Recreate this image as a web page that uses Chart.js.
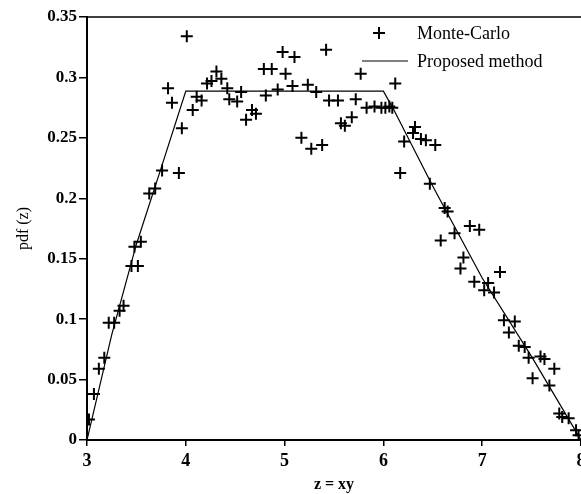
<!DOCTYPE html>
<html>
<head>
<meta charset="utf-8">
<script src="https://cdn.jsdelivr.net/npm/chart.js@4.4.1/dist/chart.umd.min.js"></script>
<style>
  body { margin: 0; background: #fff; }
  canvas { display: block; }
</style>
</head>
<body>
<canvas id="chart" width="581" height="494"></canvas>
<script>
// Monte-Carlo samples (z, pdf)
const mcZ = [
    3.02, 3.07, 3.12, 3.175, 3.22, 3.275, 3.33, 3.37, 3.45, 3.515, 3.48, 3.545,
    3.63, 3.69, 3.76, 3.93, 3.96, 3.86, 3.82,
    4.01, 4.07, 4.11, 4.16, 4.215, 4.26, 4.31, 4.36, 4.42, 4.44, 4.52, 4.56,
    4.61, 4.67, 4.71, 4.81, 4.79, 4.87, 4.93, 4.98, 5.01, 5.10, 5.08, 5.235,
    5.32, 5.42, 5.45, 5.54, 5.72, 5.77, 5.57, 5.61, 5.68, 5.17, 5.27, 5.38,
    5.83, 5.91, 5.98, 6.02, 6.06, 6.09, 6.12,
    6.32, 6.30, 6.21, 6.38, 6.43, 6.525, 6.17, 6.47, 6.62, 6.65, 6.58, 6.72,
    6.875, 6.97, 6.81, 6.78, 7.18, 6.92, 7.06, 7.02, 7.12, 7.22, 7.33, 7.27,
    7.37, 7.43, 7.47, 7.59, 7.63, 7.73, 7.51, 7.68, 7.78, 7.81, 7.875, 7.95, 7.975
];
const mcPdf = [
    0.017, 0.038, 0.059, 0.068, 0.097, 0.097, 0.107, 0.111, 0.144, 0.144, 0.160, 0.164,
    0.204, 0.208, 0.223, 0.221, 0.258, 0.279, 0.291,
    0.334, 0.273, 0.284, 0.281, 0.295, 0.297, 0.305, 0.299, 0.291, 0.282, 0.280, 0.288,
    0.265, 0.273, 0.270, 0.285, 0.307, 0.307, 0.290, 0.321, 0.303, 0.317, 0.293, 0.294,
    0.288, 0.323, 0.281, 0.281, 0.282, 0.303, 0.262, 0.260, 0.267, 0.250, 0.241, 0.244,
    0.275, 0.276, 0.275, 0.275, 0.276, 0.275, 0.295,
    0.259, 0.254, 0.247, 0.249, 0.248, 0.244, 0.221, 0.212, 0.192, 0.189, 0.165, 0.171,
    0.177, 0.174, 0.151, 0.142, 0.139, 0.131, 0.130, 0.124, 0.122, 0.099, 0.098, 0.089,
    0.078, 0.077, 0.068, 0.069, 0.067, 0.059, 0.051, 0.045, 0.022, 0.019, 0.018, 0.008, 0.004
];

// Proposed method curve
const lineZ = [3, 3.25, 3.5, 3.75, 4, 6, 6.1, 6.5, 7, 7.5, 8];
const linePdf = [0, 0.087, 0.162, 0.225, 0.2887, 0.2887, 0.274, 0.21, 0.134, 0.069, 0];

const yTickLabels = ['0', '0.05', '0.1', '0.15', '0.2', '0.25', '0.3', '0.35'];
const xTickLabels = ['3', '4', '5', '6', '7', '8'];

const serif = '"Liberation Serif", "Times New Roman", serif';

const mcPoints = mcZ.map((z, i) => ({ x: z, y: mcPdf[i] }));
const linePoints = lineZ.map((z, i) => ({ x: z, y: linePdf[i] }));

// top frame line + legend inside the plot
const framePlugin = {
    id: 'frame',
    afterDraw(chart) {
        const { ctx, chartArea } = chart;
        ctx.save();
        ctx.strokeStyle = '#000';
        ctx.lineWidth = 1.5;
        ctx.beginPath();
        ctx.moveTo(chartArea.left, chartArea.top);
        ctx.lineTo(chartArea.right, chartArea.top);
        ctx.stroke();

        // legend
        ctx.lineWidth = 2;
        ctx.beginPath();
        ctx.moveTo(373, 33); ctx.lineTo(385, 33);
        ctx.moveTo(379, 27); ctx.lineTo(379, 39);
        ctx.stroke();
        ctx.lineWidth = 1.2;
        ctx.beginPath();
        ctx.moveTo(362, 61); ctx.lineTo(408, 61);
        ctx.stroke();
        ctx.fillStyle = '#000';
        ctx.font = '18px ' + serif;
        ctx.textBaseline = 'middle';
        ctx.fillText('Monte-Carlo', 417, 34);
        ctx.fillText('Proposed method', 417, 62);
        ctx.restore();
    }
};

const ctx = document.getElementById('chart').getContext('2d');
// eslint-disable-next-line no-undef, no-unused-vars
const myChart = new Chart(ctx, {
    type: 'scatter',
    data: {
        datasets: [{
            label: 'Monte-Carlo',
            data: mcPoints,
            pointStyle: 'cross',
            pointRadius: 6,
            borderWidth: 2,
            borderColor: '#000',
            backgroundColor: '#000',
            showLine: false
        },
        {
            label: 'Proposed method',
            data: linePoints,
            showLine: true,
            borderColor: '#000',
            borderWidth: 1.2,
            pointRadius: 0,
            fill: false
        }]
    },
    options: {
        responsive: false,
        animation: false,
        layout: {
            autoPadding: false,
            padding: { top: 17, right: 0, left: 0, bottom: 0 }
        },
        plugins: {
            legend: { display: false },
            tooltip: { enabled: false }
        },
        scales: {
            x: {
                type: 'linear',
                min: 3,
                max: 8,
                afterBuildTicks: (scale) => {
                    scale.ticks = xTickLabels.map(v => ({ value: Number(v) }));
                },
                afterFit: (scale) => {
                    scale.height = 54;
                    scale.paddingLeft = 0;
                    scale.paddingRight = 0;
                },
                ticks: {
                    color: '#000',
                    padding: 5,
                    maxRotation: 0,
                    font: { family: serif, size: 18, weight: 'bold' },
                    callback: (v, i) => xTickLabels[i]
                },
                grid: {
                    display: true,
                    drawOnChartArea: false,
                    drawTicks: true,
                    tickLength: 6,
                    color: '#000',
                    lineWidth: 1.5
                },
                border: { display: true, color: '#000', width: 2 },
                title: {
                    display: true,
                    text: 'z = xy',
                    color: '#000',
                    padding: { top: 0, bottom: 0 },
                    font: { family: serif, size: 16, weight: 'bold' }
                }
            },
            y: {
                type: 'linear',
                min: 0,
                max: 0.35,
                afterBuildTicks: (scale) => {
                    scale.ticks = yTickLabels.map(v => ({ value: Number(v) }));
                },
                afterFit: (scale) => {
                    scale.width = 87;
                    scale.paddingTop = 0;
                    scale.paddingBottom = 0;
                },
                ticks: {
                    color: '#000',
                    padding: 2,
                    font: { family: serif, size: 17, weight: 'bold' },
                    callback: (v, i) => yTickLabels[i]
                },
                grid: {
                    display: true,
                    drawOnChartArea: false,
                    drawTicks: true,
                    tickLength: 8,
                    color: '#000',
                    lineWidth: 1.5
                },
                border: { display: true, color: '#000', width: 2 },
                title: {
                    display: true,
                    text: 'pdf (z)',
                    color: '#000',
                    padding: { top: 14, bottom: 0 },
                    font: { family: serif, size: 16 }
                }
            }
        }
    },
    plugins: [framePlugin]
});
</script>
</body>
</html>
